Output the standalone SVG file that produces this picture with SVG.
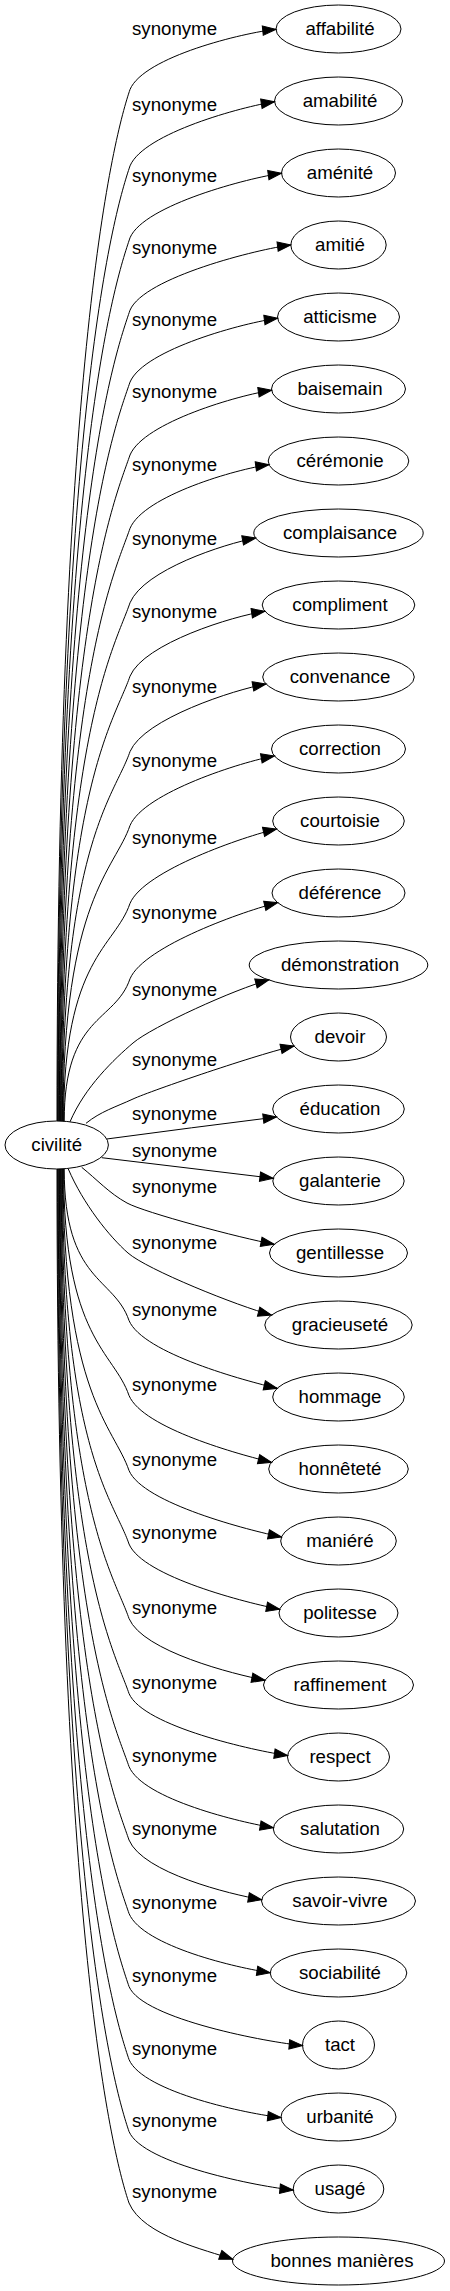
<svg xmlns="http://www.w3.org/2000/svg" width="450" height="2291" viewBox="0 0 450 2291">
<style>
.node ellipse{fill:none;stroke:#000;stroke-width:1}
.node text{font-family:"Liberation Sans",Arial,sans-serif;font-size:18.67px;text-anchor:middle;fill:#000}
.edge path{fill:none;stroke:#000;stroke-width:1;marker-end:url(#arrow)}
.edge text{font-family:"Liberation Sans",Arial,sans-serif;font-size:18.67px;text-anchor:middle;fill:#000}
</style>
<defs>
<marker id="arrow" markerUnits="userSpaceOnUse" viewBox="0 -5 14 10" markerWidth="14" markerHeight="10" refX="13.3" refY="0" orient="auto" overflow="visible">
<polygon points="0,-4.7 13.3,0 0,4.7" fill="#000" stroke="#000" stroke-width="1"/>
</marker>
</defs>
<rect width="450" height="2291" fill="#fff"/>
<g id="edges">
<g class="edge"><path d="M57,1121 C57,347.4 115,133.5 130,89.5 C144,56.5 244.2,32.6 276,29.3"/><text x="174.5" y="34.5">synonyme</text></g>
<g class="edge"><path d="M57.6,1121 C57.6,404.7 115,209.9 130,165.9 C144,132.9 242.9,106.6 274.5,101.7"/><text x="174.5" y="110.5">synonyme</text></g>
<g class="edge"><path d="M58.2,1121 C58.2,458.6 115,281.8 130,237.8 C144,204.8 249.8,177.6 281.5,173.3"/><text x="174.5" y="182">synonyme</text></g>
<g class="edge"><path d="M58.8,1121 C58.8,512.9 115,354.2 130,310.2 C144,277.2 259,248.9 290.8,245"/><text x="174.5" y="254">synonyme</text></g>
<g class="edge"><path d="M59.4,1121 C59.4,566.8 115,426.1 130,382.1 C144,349.1 245.9,322.3 277.6,318.3"/><text x="174.5" y="325.5">synonyme</text></g>
<g class="edge"><path d="M60,1121 C60,621.5 115,499 130,455 C144,422 239.9,394.9 271.6,390.3"/><text x="174.5" y="398">synonyme</text></g>
<g class="edge"><path d="M60.6,1121 C60.6,676.6 115,572.4 130,528.4 C144,495.4 237.3,468.9 269,464.7"/><text x="174.5" y="471">synonyme</text></g>
<g class="edge"><path d="M61.2,1121 C61.2,732.4 115,646.8 130,602.8 C144,569.8 224.2,543.9 255.7,538"/><text x="174.5" y="545">synonyme</text></g>
<g class="edge"><path d="M61.8,1121 C61.8,787.4 115,720.2 130,676.2 C144,643.2 233.3,616 264.9,611.3"/><text x="174.5" y="618">synonyme</text></g>
<g class="edge"><path d="M62.4,1121 C62.4,844 115,795.6 130,751.6 C144,718.6 234.5,689.7 266,684"/><text x="174.5" y="693">synonyme</text></g>
<g class="edge"><path d="M63,1121 C63,899.4 115,869.5 130,825.5 C144,792.5 242.9,761.5 274.4,756"/><text x="174.5" y="766.5">synonyme</text></g>
<g class="edge"><path d="M63.6,1121.2 C63.6,957.8 115,947.4 130,903.4 C144,870.4 245.3,836.1 276.5,829"/><text x="174.5" y="844">synonyme</text></g>
<g class="edge"><path d="M64.2,1121.2 C64.2,1014.4 115,1022.8 130,978.8 C144,945.8 246.6,910.1 277.7,902.7"/><text x="174.5" y="919">synonyme</text></g>
<g class="edge"><path d="M70,1121.8 C85,1086.8 114,1059.25 133,1043 C152,1026.75 235,989 268.8,980"/><text x="174.5" y="995.5">synonyme</text></g>
<g class="edge"><path d="M86,1123.3 C101,1111.3 114.8,1107.4 133,1099 C151.2,1090.6 259.8,1053.6 294,1046"/><text x="174.5" y="1065.5">synonyme</text></g>
<g class="edge"><path d="M106.7,1139 C163,1131.5 220,1124 276.5,1117"/><text x="174.5" y="1119.5">synonyme</text></g>
<g class="edge"><path d="M101.7,1157.7 C158.9,1164.6 216,1171.4 273.2,1178.3"/><text x="174.5" y="1156.5">synonyme</text></g>
<g class="edge"><path d="M81.7,1167.3 C96.7,1179.3 109.4,1193.4 127,1203 C144.6,1212.6 239.8,1237.9 274.2,1244.3"/><text x="174.5" y="1193">synonyme</text></g>
<g class="edge"><path d="M68.3,1169 C83.3,1204 109.25,1236.5 128,1253 C146.75,1269.5 237.7,1306.1 271.5,1315"/><text x="174.5" y="1248.5">synonyme</text></g>
<g class="edge"><path d="M64.2,1169 C64.2,1282.6 114,1276.5 129,1320.5 C143,1353.5 246,1381 277.2,1388.3"/><text x="174.5" y="1315.5">synonyme</text></g>
<g class="edge"><path d="M63.6,1169 C63.6,1338.9 114,1351.5 129,1395.5 C143,1428.5 240.4,1454.7 271.5,1462.3"/><text x="174.5" y="1390.5">synonyme</text></g>
<g class="edge"><path d="M63,1169 C63,1395.1 114,1426.5 129,1470.5 C143,1503.5 250.1,1530.6 281.5,1537"/><text x="174.5" y="1465.5">synonyme</text></g>
<g class="edge"><path d="M62.4,1169 C62.4,1450.3 114,1500 129,1544 C143,1577 248.3,1603.2 279.7,1609.3"/><text x="174.5" y="1539">synonyme</text></g>
<g class="edge"><path d="M61.8,1169 C61.8,1506.1 114,1574.5 129,1618.5 C143,1651.5 233.6,1674.1 265,1680.3"/><text x="174.5" y="1613.5">synonyme</text></g>
<g class="edge"><path d="M61.2,1169 C61.2,1562.4 114,1649.5 129,1693.5 C143,1726.5 255.9,1751.1 287.6,1755.5"/><text x="174.5" y="1688.5">synonyme</text></g>
<g class="edge"><path d="M60.6,1169 C60.6,1617.1 114,1722.5 129,1766.5 C143,1799.5 241.8,1822.6 273.4,1827.7"/><text x="174.5" y="1761.5">synonyme</text></g>
<g class="edge"><path d="M60,1169 C60,1672.3 114,1796 129,1840 C143,1873 230.1,1894.2 261.6,1899.7"/><text x="174.5" y="1835">synonyme</text></g>
<g class="edge"><path d="M59.4,1169 C59.4,1727.4 114,1869.5 129,1913.5 C143,1946.5 238.5,1968.2 270.2,1972.7"/><text x="174.5" y="1908.5">synonyme</text></g>
<g class="edge"><path d="M58.8,1169 C58.8,1782.1 114,1942.5 129,1986.5 C143,2019.5 270.6,2042.7 302.5,2045.5"/><text x="174.5" y="1981.5">synonyme</text></g>
<g class="edge"><path d="M58.2,1169 C58.2,1836.9 114,2015.5 129,2059.5 C143,2092.5 249.2,2114.1 281,2117.5"/><text x="174.5" y="2054.5">synonyme</text></g>
<g class="edge"><path d="M57.6,1169 C57.6,1890.9 114,2087.5 129,2131.5 C143,2164.5 261.3,2187 293.2,2190"/><text x="174.5" y="2126.5">synonyme</text></g>
<g class="edge"><path d="M57,1169 C57,1944.5 114,2159 129,2203 C143,2236 206.4,2250.1 232.8,2259.3"/><text x="174.5" y="2198">synonyme</text></g>
</g>
<g id="node-civilite" class="node"><ellipse cx="56.7" cy="1145" rx="51.7" ry="24"/><text x="56.7" y="1151">civilité</text></g>
<g id="node-affabilite" class="node"><ellipse cx="338.5" cy="29" rx="62.5" ry="24"/><text x="340" y="35">affabilité</text></g>
<g id="node-amabilite" class="node"><ellipse cx="338.5" cy="101" rx="64" ry="24"/><text x="340" y="107">amabilité</text></g>
<g id="node-amenite" class="node"><ellipse cx="338.5" cy="173" rx="57" ry="24"/><text x="340" y="179">aménité</text></g>
<g id="node-amitie" class="node"><ellipse cx="338.5" cy="245" rx="47.7" ry="24"/><text x="340" y="251">amitié</text></g>
<g id="node-atticisme" class="node"><ellipse cx="338.5" cy="317" rx="61" ry="24"/><text x="340" y="323">atticisme</text></g>
<g id="node-baisemain" class="node"><ellipse cx="338.5" cy="389" rx="67" ry="24"/><text x="340" y="395">baisemain</text></g>
<g id="node-ceremonie" class="node"><ellipse cx="338.5" cy="461" rx="70.3" ry="24"/><text x="340" y="467">cérémonie</text></g>
<g id="node-complaisance" class="node"><ellipse cx="338.5" cy="533" rx="84.7" ry="24"/><text x="340" y="539">complaisance</text></g>
<g id="node-compliment" class="node"><ellipse cx="338.5" cy="605" rx="76.3" ry="24"/><text x="340" y="611">compliment</text></g>
<g id="node-convenance" class="node"><ellipse cx="338.5" cy="677" rx="75.8" ry="24"/><text x="340" y="683">convenance</text></g>
<g id="node-correction" class="node"><ellipse cx="338.5" cy="749" rx="67" ry="24"/><text x="340" y="755">correction</text></g>
<g id="node-courtoisie" class="node"><ellipse cx="338.5" cy="821" rx="65.8" ry="24"/><text x="340" y="827">courtoisie</text></g>
<g id="node-deference" class="node"><ellipse cx="338.5" cy="893" rx="66.5" ry="24"/><text x="340" y="899">déférence</text></g>
<g id="node-demonstration" class="node"><ellipse cx="338.5" cy="965" rx="89.3" ry="24"/><text x="340" y="971">démonstration</text></g>
<g id="node-devoir" class="node"><ellipse cx="338.5" cy="1037" rx="48" ry="24"/><text x="340" y="1043">devoir</text></g>
<g id="node-education" class="node"><ellipse cx="338.5" cy="1109" rx="65.8" ry="24"/><text x="340" y="1115">éducation</text></g>
<g id="node-galanterie" class="node"><ellipse cx="338.5" cy="1181" rx="65.7" ry="24"/><text x="340" y="1187">galanterie</text></g>
<g id="node-gentillesse" class="node"><ellipse cx="338.5" cy="1253" rx="69" ry="24"/><text x="340" y="1259">gentillesse</text></g>
<g id="node-gracieusete" class="node"><ellipse cx="338.5" cy="1325" rx="73.7" ry="24"/><text x="340" y="1331">gracieuseté</text></g>
<g id="node-hommage" class="node"><ellipse cx="338.5" cy="1397" rx="65.8" ry="24"/><text x="340" y="1403">hommage</text></g>
<g id="node-honnetete" class="node"><ellipse cx="338.5" cy="1469" rx="69.8" ry="24"/><text x="340" y="1475">honnêteté</text></g>
<g id="node-maniere" class="node"><ellipse cx="338.5" cy="1541" rx="57.8" ry="24"/><text x="340" y="1547">maniéré</text></g>
<g id="node-politesse" class="node"><ellipse cx="338.5" cy="1613" rx="59.5" ry="24"/><text x="340" y="1619">politesse</text></g>
<g id="node-raffinement" class="node"><ellipse cx="338.5" cy="1685" rx="75" ry="24"/><text x="340" y="1691">raffinement</text></g>
<g id="node-respect" class="node"><ellipse cx="338.5" cy="1757" rx="51" ry="24"/><text x="340" y="1763">respect</text></g>
<g id="node-salutation" class="node"><ellipse cx="338.5" cy="1829" rx="65.2" ry="24"/><text x="340" y="1835">salutation</text></g>
<g id="node-savoir-vivre" class="node"><ellipse cx="338.5" cy="1901" rx="77" ry="24"/><text x="340" y="1907">savoir-vivre</text></g>
<g id="node-sociabilite" class="node"><ellipse cx="338.5" cy="1973" rx="68.3" ry="24"/><text x="340" y="1979">sociabilité</text></g>
<g id="node-tact" class="node"><ellipse cx="338.5" cy="2045" rx="36" ry="24"/><text x="340" y="2051">tact</text></g>
<g id="node-urbanite" class="node"><ellipse cx="338.5" cy="2117" rx="57.5" ry="24"/><text x="340" y="2123">urbanité</text></g>
<g id="node-usage" class="node"><ellipse cx="338.5" cy="2189" rx="45.3" ry="24"/><text x="340" y="2195">usagé</text></g>
<g id="node-bonnes-manieres" class="node"><ellipse cx="338.5" cy="2261" rx="106" ry="24"/><text x="342" y="2267">bonnes manières</text></g>
</svg>
